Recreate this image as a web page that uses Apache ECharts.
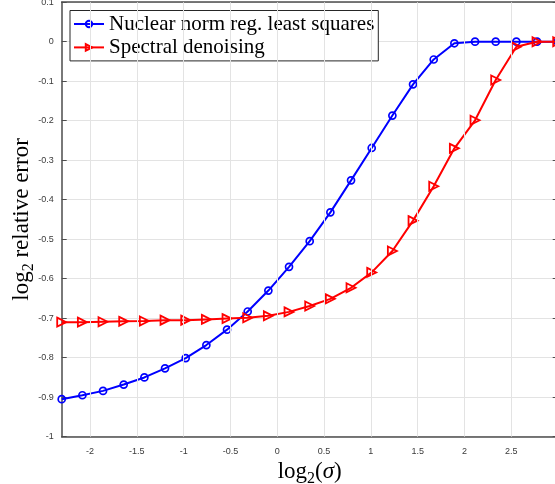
<!DOCTYPE html>
<html>
<head>
<meta charset="utf-8">
<script src="https://cdn.jsdelivr.net/npm/echarts@6/dist/echarts.min.js"></script>
<style>
html,body{margin:0;padding:0;background:#fff;}
#chart{width:555px;height:484px;}
</style>
</head>
<body>
<div id="chart"></div>
<script>
// x positions: log2(sigma) sample points
const xValues = [-2.3026, -2.0818, -1.8611, -1.6403, -1.4195, -1.1988, -0.9780, -0.7572, -0.5365, -0.3157,
  -0.0950, 0.1258, 0.3466, 0.5673, 0.7881, 1.0089, 1.2296, 1.4504, 1.6712, 1.8919,
  2.1127, 2.3334, 2.5542, 2.7750, 2.9957];
const nuclearNorm = [-0.905, -0.895, -0.884, -0.868, -0.850, -0.827, -0.801, -0.768, -0.729, -0.683,
  -0.630, -0.570, -0.505, -0.432, -0.351, -0.269, -0.187, -0.108, -0.045, -0.004,
  0, 0, 0, 0, 0];
const spectral = [-0.710, -0.710, -0.709, -0.708, -0.707, -0.705, -0.705, -0.703, -0.701, -0.699,
  -0.694, -0.684, -0.669, -0.651, -0.623, -0.584, -0.530, -0.453, -0.366, -0.270,
  -0.199, -0.097, -0.013, 0, 0];
const xTicks = [-2, -1.5, -1, -0.5, 0, 0.5, 1, 1.5, 2, 2.5];
const seriesNames = ['Nuclear norm reg. least squares', 'Spectral denoising'];
const xMin = -2.3026, xMax = 2.9957, yMin = -1, yMax = 0.1, yStep = 0.1;

const chart = echarts.init(document.getElementById('chart'), null, {renderer: 'canvas'});
const axisColor = '#4d4d4d';
const labelStyle = {fontFamily: 'Liberation Sans, Arial, sans-serif', fontSize: 9, color: '#3a3a3a'};
const serif = 'Liberation Serif, Times New Roman, serif';
const richName = {
  n: {fontFamily: serif, fontSize: 23, color: '#000'},
  s: {fontFamily: serif, fontSize: 16, color: '#000', padding: [14, 0, 0, 0]},
  i: {fontFamily: serif, fontSize: 23, fontStyle: 'italic', color: '#000'}
};
const pair = (ys) => xValues.map((x, i) => [x, ys[i]]);

chart.setOption({
  animation: false,
  grid: {left: 61.7, right: -2.7, top: 2.2, bottom: 47.3, containLabel: false, outerBoundsMode: 'none'},
  legend: {
    orient: 'vertical', left: 70, top: 10.5,
    backgroundColor: '#fff', borderColor: '#262626', borderWidth: 1,
    padding: [3, 4, 3, 3], itemGap: 2.4, itemWidth: 30, itemHeight: 8,
    textStyle: {fontFamily: serif, fontSize: 21, color: '#000'},
    data: seriesNames
  },
  xAxis: [{
    type: 'value', position: 'bottom', min: xMin, max: xMax,
    name: '{n|log}{s|2}{n|(}{i|σ}{n|)}', nameLocation: 'middle', nameGap: 20, nameMoveOverlap: false,
    nameTextStyle: {rich: richName},
    axisLine: {show: true, onZero: false, lineStyle: {color: axisColor, width: 1.5}},
    axisTick: {show: true, inside: true, length: 5, customValues: xTicks, lineStyle: {color: axisColor}},
    axisLabel: Object.assign({customValues: xTicks, margin: 10}, labelStyle),
    splitLine: {show: false}
  }, {
    type: 'value', position: 'top', min: xMin, max: xMax,
    axisLine: {show: true, onZero: false, lineStyle: {color: axisColor, width: 1.5}},
    axisTick: {show: true, inside: true, length: 5, customValues: xTicks, lineStyle: {color: axisColor}},
    axisLabel: {show: false},
    splitLine: {show: false}
  }],
  yAxis: [{
    type: 'value', position: 'left', min: yMin, max: yMax, interval: yStep,
    name: '{n|log}{s|2}{n| relative error}', nameLocation: 'middle', nameGap: 25, nameRotate: 90,
    nameMoveOverlap: false,
    nameTextStyle: {rich: richName},
    axisLine: {show: true, onZero: false, lineStyle: {color: axisColor, width: 1.5}},
    axisTick: {show: true, inside: true, length: 5, lineStyle: {color: axisColor}},
    axisLabel: Object.assign({margin: 8}, labelStyle),
    splitLine: {show: true, lineStyle: {color: '#e3e3e3', width: 1}}
  }, {
    type: 'value', position: 'right', min: yMin, max: yMax, interval: yStep,
    axisLine: {show: true, onZero: false, lineStyle: {color: axisColor, width: 1.5}},
    axisTick: {show: true, inside: true, length: 5, lineStyle: {color: axisColor}},
    axisLabel: {show: false},
    splitLine: {show: false}
  }],
  series: [{
    type: 'line', name: 'xgrid', data: [], silent: true, z: 0,
    markLine: {
      silent: true, symbol: ['none', 'none'], label: {show: false},
      lineStyle: {color: '#e3e3e3', width: 1, type: 'solid'},
      emphasis: {disabled: true},
      data: xTicks.map(v => ({xAxis: v}))
    }
  }, {
    type: 'line', name: seriesNames[0], data: pair(nuclearNorm),
    symbol: 'circle', symbolSize: 7,
    lineStyle: {color: '#0000ff', width: 2},
    itemStyle: {color: 'rgba(0,0,0,0)', borderColor: '#0000ff', borderWidth: 1.7},
    emphasis: {disabled: true}, z: 3
  }, {
    type: 'line', name: seriesNames[1], data: pair(spectral),
    symbol: 'path://M0,0 L10,5 L0,10 Z', symbolSize: 9,
    lineStyle: {color: '#ff0000', width: 2},
    itemStyle: {color: 'rgba(0,0,0,0)', borderColor: '#ff0000', borderWidth: 1.8},
    emphasis: {disabled: true}, z: 4
  }]
});
</script>
</body>
</html>
